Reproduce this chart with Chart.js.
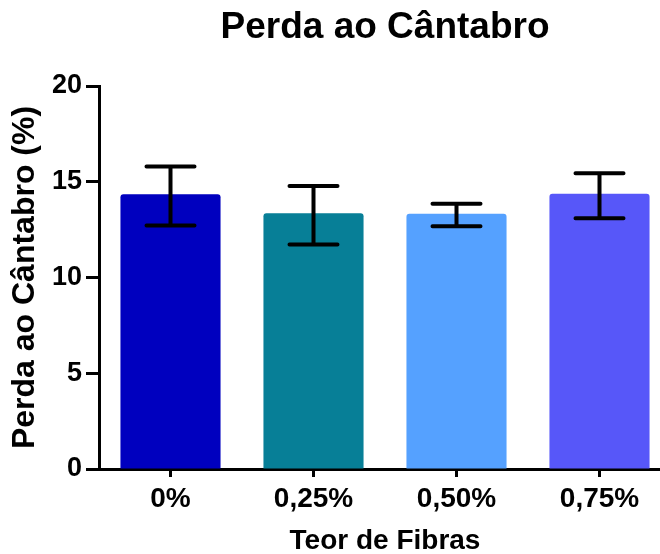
<!DOCTYPE html>
<html>
<head>
<meta charset="utf-8">
<script src="https://cdn.jsdelivr.net/npm/chart.js@4"></script>
<style>
  html, body { margin: 0; padding: 0; background: #fff; overflow: hidden; }
  #wrap { width: 660px; height: 554px; overflow: hidden; }
</style>
</head>
<body>
<div id="wrap"><canvas id="chart" width="680" height="554"></canvas></div>
<script>
// ========== DATA ==========
const categories = ['0%', '0,25%', '0,50%', '0,75%'];
const meanValues = [14.35, 13.35, 13.33, 14.37];
const errLow = [12.72, 11.72, 12.68, 13.1];
const errHigh = [15.8, 14.78, 13.85, 15.45];
const barColors = ['#0000BF', '#077F97', '#55A1FF', '#5757F9'];
const yTicks = [0, 5, 10, 15, 20];

const font = "'Liberation Sans', Arial, Helvetica, sans-serif";

// ========== ERROR BAR PLUGIN ==========
const errorBars = {
  id: 'errorBars',
  afterDatasetsDraw(chart) {
    const ctx = chart.ctx;
    const y = chart.scales.y;
    const meta = chart.getDatasetMeta(0);
    ctx.save();
    ctx.strokeStyle = '#000';
    ctx.lineWidth = 4;
    ctx.lineCap = 'round';
    meta.data.forEach((bar, i) => {
      const x = bar.x;
      const top = y.getPixelForValue(errHigh[i]);
      const bot = y.getPixelForValue(errLow[i]);
      const half = 24;
      ctx.beginPath();
      ctx.moveTo(x, top);
      ctx.lineTo(x, bot);
      ctx.moveTo(x - half, top);
      ctx.lineTo(x + half, top);
      ctx.moveTo(x - half, bot);
      ctx.lineTo(x + half, bot);
      ctx.stroke();
    });
    ctx.restore();
  }
};

// ========== CHART ==========
const chart = new Chart(document.getElementById('chart'), {
  type: 'bar',
  data: {
    labels: categories,
    datasets: [{
      data: meanValues,
      backgroundColor: barColors,
      borderRadius: 3,
      borderSkipped: 'bottom',
      categoryPercentage: 1,
      barPercentage: 0.7
    }]
  },
  options: {
    responsive: false,
    animation: false,
    devicePixelRatio: 1,
    layout: { padding: { left: 0, right: 9, top: 0, bottom: 0 } },
    plugins: {
      legend: { display: false },
      tooltip: { enabled: false },
      title: {
        display: true,
        text: 'Perda ao Cântabro',
        fullSize: false,
        color: '#000',
        font: { family: font, size: 37, weight: 'bold' },
        padding: { top: 6, bottom: 35.6 }
      }
    },
    scales: {
      x: {
        offset: true,
        grid: {
          offset: false,
          drawOnChartArea: false,
          drawTicks: true,
          tickLength: 8,
          tickWidth: 3,
          tickColor: '#000'
        },
        border: { color: '#000', width: 3 },
        ticks: {
          color: '#000',
          font: { family: font, size: 28, weight: 'bold' },
          padding: 5,
          maxRotation: 0
        },
        title: {
          display: true,
          text: 'Teor de Fibras',
          color: '#000',
          font: { family: font, size: 28, weight: 'bold' },
          padding: { top: 0, bottom: -4 }
        },
        afterFit(scale) { scale.height = 85; }
      },
      y: {
        min: 0,
        max: 20,
        afterBuildTicks(scale) { scale.ticks = yTicks.map(v => ({ value: v })); },
        grid: {
          drawOnChartArea: false,
          drawTicks: true,
          tickLength: 13,
          tickWidth: 3,
          tickColor: '#000'
        },
        border: { color: '#000', width: 3 },
        ticks: {
          color: '#000',
          font: { family: font, size: 27, weight: 'bold' },
          padding: 4
        },
        title: {
          display: true,
          text: 'Perda ao Cântabro (%)',
          color: '#000',
          font: { family: font, size: 32, weight: 'bold' },
          padding: { top: 6, bottom: 0 }
        },
        afterFit(scale) { scale.width = 99; }
      }
    }
  },
  plugins: [errorBars]
});
</script>
</body>
</html>
